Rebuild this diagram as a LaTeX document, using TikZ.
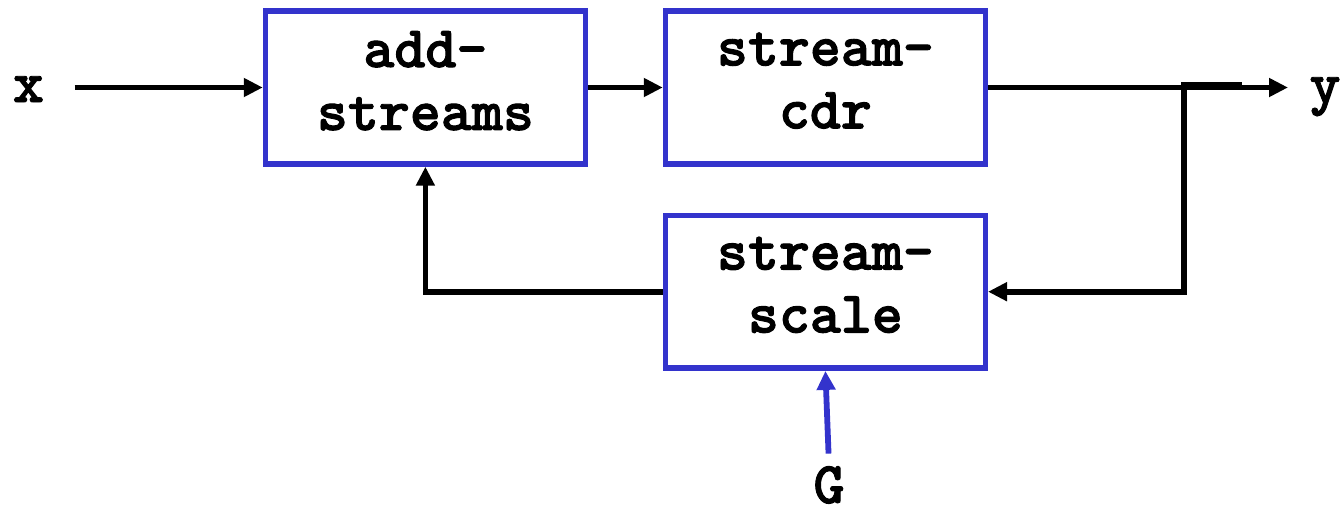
\documentclass[tikz,border=0pt]{standalone}
\usepackage{fontspec}
\usepackage{tikz}
\usetikzlibrary{%
	arrows.meta%
}
\newfontfamily\monobold{lmmonolt10-bold.otf}[FakeBold=1.6]
\definecolor{blockblue}{RGB}{51,51,204}
\newcommand{\blockfont}{\fontsize{16.8}{17.9}\selectfont\monobold}
\newcommand{\lowstrut}{\rule[-0.14cm]{0pt}{0pt}}
\tikzset{
	block/.style={draw=blockblue, line width=0.055cm, minimum width=3.198cm, minimum height=1.529cm, align=center, inner sep=0pt, font=\blockfont},
	signal/.style={line width=0.058cm, -{Triangle[length=0.19cm,width=0.18cm]}},
	siglabel/.style={anchor=base, inner sep=0pt, font=\blockfont}
}
\begin{document}
\begin{tikzpicture}
		\useasboundingbox (0,0) rectangle (13.44,5.13);
		
		% Blocks
		\node[block] (as) at (4.254,4.255) {add-\\streams\lowstrut};
		\node[block] (cdr) at (8.254,4.255) {stream-\\cdr\lowstrut};
		\node[block] (ss) at (8.254,2.213) {stream-\\scale\lowstrut};
		
		% Signals
		\node[siglabel] (x) at (0.285,4.11) {x};
		\node[siglabel] (y) at (13.25,4.10) {y};
		\node[siglabel] (G) at (8.29,0.10) {G};
		\coordinate (yout) at (12.88,4.255);
		\coordinate (tap) at (12.42,4.28);
		\coordinate (branch) at (11.84,4.28);
		
		% Forward path
		\draw[signal, shorten <=0.3cm] (x.east |- as.west) -- (as.west);
		\draw[signal] (as.east) -- (cdr.west);
		\draw[signal] (cdr.east) -- (yout);
		
		% Feedback path
		\draw[signal] (tap) -- (branch) |- (ss.east);
		\draw[signal] (ss.west) -| (as.south);
		\draw[signal, draw=blockblue, fill=blockblue, shorten <=0.12cm] (G.north) -- (ss.south);
	\end{tikzpicture}
\end{document}
